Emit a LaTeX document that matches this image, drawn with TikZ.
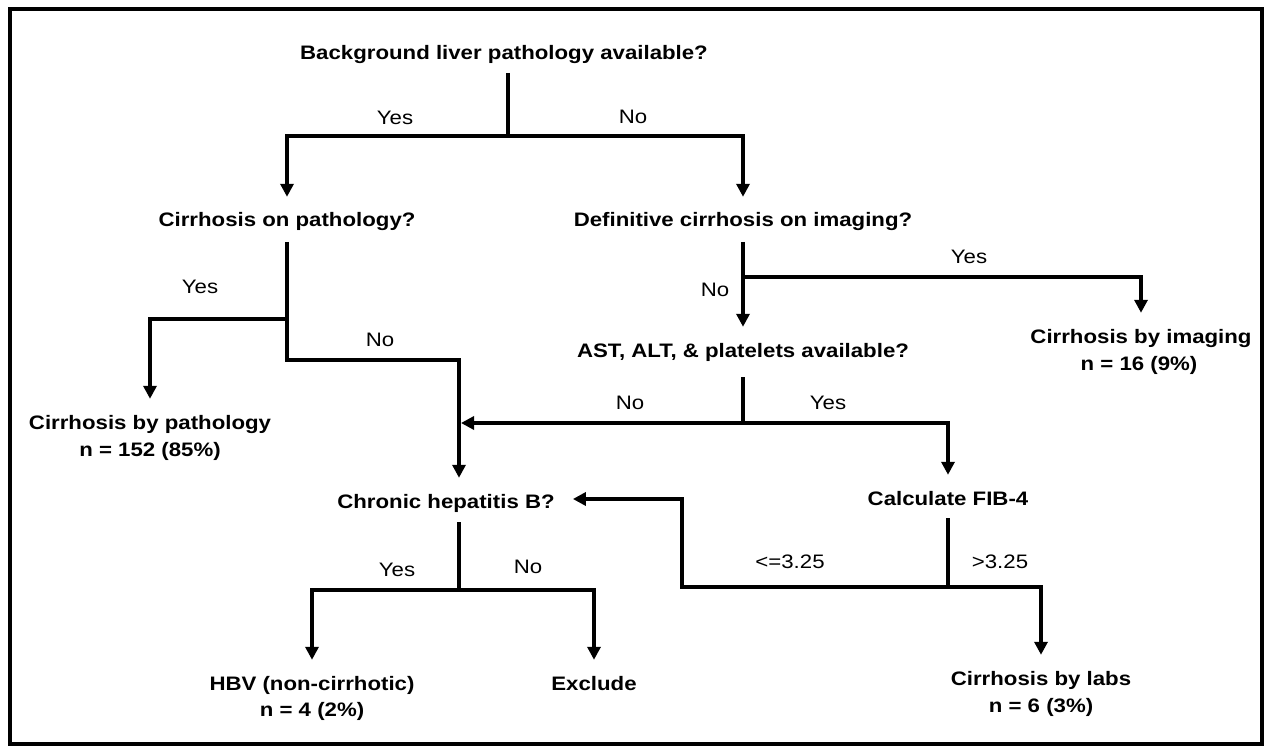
\documentclass[tikz,border=0pt]{standalone}
\usepackage{fontspec}
\setmainfont{Liberation Sans}[FakeStretch=1.14]
\usetikzlibrary{arrows.meta}
\begin{document}
\begin{tikzpicture}[x=1pt,y=-1pt,
  q/.style={font=\fontsize{19.5}{23}\selectfont\bfseries, anchor=base, inner xsep=18pt, inner ysep=16pt, text height=14pt, text depth=4pt},
  nline/.style={font=\fontsize{19.5}{23}\selectfont\bfseries, anchor=base, inner sep=0pt},
  lab/.style={font=\fontsize{19.5}{23}\selectfont, inner sep=0pt},
  conn/.style={line width=3.5pt},
  arr/.style={conn, -{Triangle[width=13pt,length=13pt]}}]
\useasboundingbox (0,0) rectangle (1269,746);
\fill[white] (0,0) rectangle (1269,746);
\draw[line width=4pt] (10,9.5) rectangle (1262,744);

% nodes
\node[q] (q1) at (504,60) {Background liver pathology available?};
\node[q] (q2) at (287,227) {Cirrhosis on pathology?};
\node[q] (q3) at (743,227) {Definitive cirrhosis on imaging?};
\node[q] (q4) at (743,357) {AST, ALT, \& platelets available?};
\node[q] (r1) at (1141,343) {Cirrhosis by imaging};
\node[nline] (r1n) at (1139,370) {n = 16 (9\%)};
\node[q] (r2) at (150,429) {Cirrhosis by pathology};
\node[nline] (r2n) at (150,456) {n = 152 (85\%)};
\node[q] (q5) at (446,508) {Chronic hepatitis B?};
\node[q] (q6) at (948,505) {Calculate FIB-4};
\node[q] (r3) at (312,690) {HBV (non-cirrhotic)};
\node[nline] (r3n) at (312,716) {n = 4 (2\%)};
\node[q] (r4) at (594,690) {Exclude};
\node[q] (r5) at (1041,685) {Cirrhosis by labs};
\node[nline] (r5n) at (1041,712) {n = 6 (3\%)};

% junction coordinates
\coordinate (t0) at (508,73);
\coordinate (t1) at (508,136);
\coordinate (p0) at (287,242);
\coordinate (p1) at (287,319);
\coordinate (p2) at (287,360);
\coordinate (h) at (459,423);
\coordinate (hin) at (461,423);
\coordinate (d0) at (743,242);
\coordinate (d1) at (743,277);
\coordinate (a0) at (743,377);
\coordinate (a1) at (743,423);
\coordinate (f0) at (948,518);
\coordinate (f1) at (948,587);
\coordinate (b0) at (682,587);
\coordinate (b1) at (682,499);
\coordinate (c0) at (459,522);
\coordinate (c1) at (459,590);

% connectors
\draw[conn] (t0) -- (t1);
\draw[arr] (t1) -| (q2.north);
\draw[arr] (t1) -| (q3.north);

\draw[arr] (p0) -- (p2) -| (q5.north -| h);
\draw[arr] (p1) -| (r2.north);

\draw[arr] (d0) -- (q4.north);
\draw[arr] (d1) -| (r1.north);

\draw[conn] (a0) -- (a1);
\draw[arr] (a1) -- (hin);
\draw[arr] (a1) -| (q6.north);

\draw[conn] (f0) -- (f1);
\draw[arr] (f1) -- (b0) -- (b1) -- (b1 -| q5.east);
\draw[arr] (f1) -| (r5.north);

\draw[conn] (c0) -- (c1);
\draw[arr] (c1) -| (r3.north);
\draw[arr] (c1) -| (r4.north);

% labels
\node[lab] (l1) at (395,118) {Yes};
\node[lab] (l2) at (633,117) {No};
\node[lab] (l3) at (200,287) {Yes};
\node[lab] (l4) at (380,340) {No};
\node[lab] (l5) at (969,257) {Yes};
\node[lab] (l6) at (715,290) {No};
\node[lab] (l7) at (630,403) {No};
\node[lab] (l8) at (828,403) {Yes};
\node[lab] (l9) at (397,570) {Yes};
\node[lab] (l10) at (528,567) {No};
\node[lab] (l11) at (790,562) {<=3.25};
\node[lab] (l12) at (1000,562) {>3.25};
\end{tikzpicture}
\end{document}
